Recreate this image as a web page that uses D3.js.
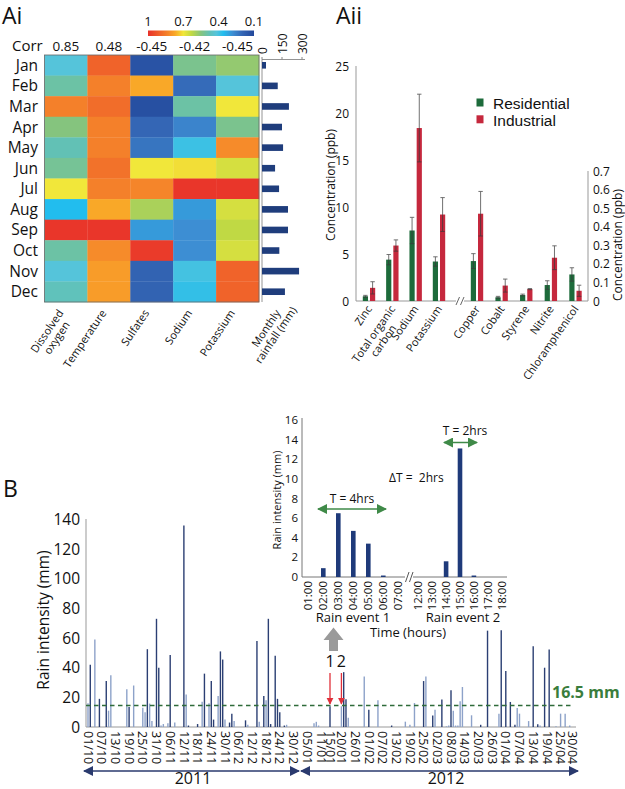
<!DOCTYPE html>
<html><head><meta charset="utf-8">
<script src="https://cdn.jsdelivr.net/npm/d3@7"></script>
<style>
body{margin:0;background:#fff}
svg{display:block}
text{font-family:"Open Sans",sans-serif;fill:#111}
</style>
</head><body>
<svg id="c" width="625" height="789"></svg>
<script>
// ================= DATA =================
// Panel Ai
const months = ["Jan","Feb","Mar","Apr","May","Jun","Jul","Aug","Sep","Oct","Nov","Dec"];
const variables = ["Dissolved oxygen","Temperature","Sulfates","Sodium","Potassium"];
const variableLabels = [["Dissolved","oxygen"],["Temperature"],["Sulfates"],["Sodium"],["Potassium"]];
const rainfallLabel = ["Monthly","rainfall (mm)"];
const corrLabels = ["0.85","0.48","-0.45","-0.42","-0.45"];
const heatValues = [
  [0.42,0.90,0.14,0.53,0.57],
  [0.50,0.84,0.77,0.21,0.42],
  [0.84,0.88,0.13,0.50,0.70],
  [0.55,0.84,0.20,0.26,0.53],
  [0.48,0.84,0.23,0.39,0.82],
  [0.52,0.87,0.70,0.71,0.66],
  [0.70,0.84,0.83,0.99,0.99],
  [0.36,0.77,0.60,0.30,0.66],
  [0.99,0.99,0.30,0.28,0.63],
  [0.50,0.82,0.98,0.28,0.66],
  [0.42,0.79,0.19,0.40,0.90],
  [0.47,0.79,0.19,0.38,0.90]
];
const monthlyRainfall = [30,118,202,150,158,98,128,195,195,130,278,172];
const rainfallTicks = [0,150,300];
const colorbarTicks = [1,0.7,0.4,0.1];

// Panel Aii
const leftCompounds = ["Zinc","Total organic carbon","Sodium","Potassium"];
const leftCompoundLabels = [["Zinc"],["Total organic","carbon"],["Sodium"],["Potassium"]];
const leftResidential = [0.5,4.4,7.5,4.2];
const leftResidentialErr = [0.1,0.55,1.4,0.5];
const leftIndustrial = [1.4,5.9,18.4,9.2];
const leftIndustrialErr = [0.65,0.6,3.6,1.8];
const rightCompounds = ["Copper","Cobalt","Styrene","Nitrite","Chloramphenicol"];
const rightResidential = [0.215,0.02,0.032,0.086,0.143];
const rightResidentialErr = [0.04,0.005,0.005,0.023,0.036];
const rightIndustrial = [0.47,0.083,0.064,0.233,0.055];
const rightIndustrialErr = [0.12,0.035,0.003,0.064,0.03];
const leftTicks = [0,5,10,15,20,25];
const rightTicks = [0,0.1,0.2,0.3,0.4,0.5,0.6,0.7];
const seriesNames = ["Residential","Industrial"];

// Panel B (daily rain intensity, mm); shade: d = dark, l = light
const rainDates = ["2011-10-01","2011-10-02","2011-10-04","2011-10-06","2011-10-09","2011-10-10","2011-10-11","2011-10-18","2011-10-19","2011-10-21",
"2011-10-25","2011-10-26","2011-10-27","2011-10-28","2011-10-29","2011-10-31","2011-11-01","2011-11-02","2011-11-03","2011-11-05",
"2011-11-06","2011-11-08","2011-11-12","2011-11-13","2011-11-14","2011-11-18","2011-11-20","2011-11-21","2011-11-23","2011-11-24",
"2011-11-25","2011-11-27","2011-11-28","2011-11-29","2011-11-30","2011-12-02","2011-12-03","2011-12-04","2011-12-09","2011-12-10",
"2011-12-14","2011-12-15","2011-12-17","2011-12-18","2011-12-19","2011-12-20","2011-12-22","2011-12-23","2011-12-24","2011-12-26",
"2011-12-27","2012-01-08","2012-01-09","2012-01-10","2012-01-15","2012-01-20","2012-01-21","2012-01-22","2012-01-23","2012-01-30",
"2012-02-01","2012-02-05","2012-02-11","2012-02-17","2012-02-19","2012-02-21","2012-02-25","2012-02-26","2012-02-29","2012-03-01",
"2012-03-04","2012-03-06","2012-03-07","2012-03-08","2012-03-09","2012-03-10","2012-03-11","2012-03-12","2012-03-13","2012-03-17",
"2012-03-21","2012-03-24","2012-03-29","2012-03-30","2012-04-01","2012-04-03","2012-04-05","2012-04-06","2012-04-07","2012-04-11",
"2012-04-13","2012-04-15","2012-04-16","2012-04-18","2012-04-20","2012-04-23","2012-04-25","2012-04-27","2012-04-29"];
const rainValues = [16,42,59,19,31,11,35,25.5,13.5,28,
13,10,52.5,15.8,4,73,40,1,2,2.5,
48.5,3,136,22,1,2,17,36,16,31,
5,21,51,45.5,5,3,9,4,4.5,1.5,
58,3.5,21,18,73,2,48,19,10,1,
1.5,2.5,3.5,1,14,14,37,18.7,6.3,34,
11.7,18,1,3.6,1.5,16.2,31,34,7.7,11.7,
18.5,0.5,1,24.8,11,1,1,17.4,27,7.9,
1.5,65,9,65.3,37.8,16.9,1.5,12.8,9,4,
54.5,1.8,1,40,52.3,0.5,9,9,1];
const rainShade = ["l","d","l","d","d","l","l","l","d","l",
"l","l","d","l","l","d","d","l","l","l",
"d","l","d","l","d","d","l","d","l","d",
"d","l","d","d","l","d","d","l","d","l",
"d","l","d","l","d","d","d","d","d","d",
"l","l","l","l","d","l","d","d","l","l",
"d","l","d","l","l","l","d","l","d","l",
"d","l","l","d","l","l","l","l","l","l",
"d","d","l","d","d","d","d","l","l","l",
"d","d","l","d","d","l","l","l","l"];
const dateTickLabels = ["01/10/2011","07/10/2011","13/10/2011","19/10/2011","25/10/2011","31/10/2011","06/11/2011","12/11/2011","18/11/2011","24/11/2011",
"30/11/2011","06/12/2011","12/12/2011","18/12/2011","24/12/2011","30/12/2011","05/01/2012","11/01/2012","15/01/2012","20/01/2012",
"26/01/2012","01/02/2012","07/02/2012","13/02/2012","19/02/2012","25/02/2012","02/03/2012","08/03/2012","14/03/2012","20/03/2012",
"26/03/2012","01/04/2012","07/04/2012","13/04/2012","19/04/2012","25/04/2012","30/04/2012"];
const mainTicks = [0,20,40,60,80,100,120,140];
const thresholdLine = 14.5;
const thresholdLabel = "16.5 mm";
const eventDates = ["2012-01-15","2012-01-20"];
const eventNames = ["1","2"];
const years = ["2011","2012"];

// Inset
const hoursEvent1 = ["01:00","02:00","03:00","04:00","05:00","06:00","07:00"];
const rainEvent1 = [0,0.9,6.5,4.7,3.4,0.15,0];
const hoursEvent2 = ["12:00","13:00","14:00","15:00","16:00","17:00","18:00"];
const rainEvent2 = [0,0,1.6,13.1,0.15,0,0];
const insetTicks = [0,2,4,6,8,10,12,14,16];

// ================= DRAW =================
const svg = d3.select("#c");
svg.append("rect").attr("width",625).attr("height",789).attr("fill","#fff");

const defs = svg.append("defs");
function marker(id,color,w,h){
  defs.append("marker").attr("id",id).attr("viewBox","0 0 10 10").attr("refX",9).attr("refY",5)
   .attr("markerWidth",w).attr("markerHeight",h).attr("orient","auto-start-reverse").attr("markerUnits","userSpaceOnUse")
   .append("path").attr("d","M0,0 L10,5 L0,10 z").attr("fill",color);
}
marker("mNavy","#2a3a6e",11,10);
marker("mGreen","#3f8a48",10,10);
marker("mRed","#e0303a",7,9);

// ---------- Panel labels ----------
svg.append("text").attr("x",2).attr("y",24).attr("font-size",23).text("Ai");
svg.append("text").attr("x",336).attr("y",24).attr("font-size",23).text("Aii");
svg.append("text").attr("x",3).attr("y",497).attr("font-size",23).text("B");

// ---------- Ai ----------
const heatColor = d3.scaleLinear()
  .domain([1,0.9,0.83,0.77,0.7,0.63,0.55,0.48,0.42,0.36,0.28,0.2,0.1])
  .range(["#e8312a","#f0632a","#f5852a","#f9a828","#f1e73a","#c0d944","#85c47e","#62c1b5","#55c4da","#22bdee","#3d8ed3","#3466b5","#22479a"])
  .clamp(true);

const hx = d3.scaleBand().domain(variables).range([44.5,259]);
const hy = d3.scaleBand().domain(months).range([55,302]);

// colorbar
const cbx = d3.scaleLinear().domain([1,0.1]).range([148,254]);
const grad = defs.append("linearGradient").attr("id","cbg").attr("x1","0%").attr("x2","100%");
heatColor.domain().forEach((v,i)=>{
  grad.append("stop").attr("offset",((1-v)/0.9*100)+"%").attr("stop-color",heatColor.range()[i]);
});
svg.append("rect").attr("x",cbx(1)).attr("y",30.5).attr("width",cbx(0.1)-cbx(1)).attr("height",5.5).attr("fill","url(#cbg)");
svg.selectAll(".cbt").data(colorbarTicks).join("text")
  .attr("x",d=>cbx(d)).attr("y",26).attr("text-anchor","middle").attr("font-size",13)
  .text(d=>d===1?"1":d3.format(".1f")(d));

// corr row
svg.append("text").attr("x",12).attr("y",51).attr("font-size",15).text("Corr");
svg.selectAll(".corr").data(corrLabels).join("text")
  .attr("x",(d,i)=>hx(variables[i])+hx.bandwidth()/2).attr("y",51).attr("text-anchor","middle").attr("font-size",13.5)
  .text(d=>d);

// cells
months.forEach((m,r)=>{
  variables.forEach((v,c)=>{
    svg.append("rect").attr("x",hx(v)).attr("y",hy(m)).attr("width",hx.bandwidth()+0.3).attr("height",hy.bandwidth()+0.3)
      .attr("fill",heatColor(heatValues[r][c]));
  });
});
svg.append("rect").attr("x",44.5).attr("y",55).attr("width",259-44.5).attr("height",302-55)
  .attr("fill","none").attr("stroke","#666").attr("stroke-width",0.8);

svg.selectAll(".mon").data(months).join("text")
  .attr("x",38).attr("y",d=>hy(d)+hy.bandwidth()/2+5.5).attr("text-anchor","end").attr("font-size",15.5).text(d=>d);

// rotated multi-line labels, lines centred on each other, block anchored at the end of the first line
function rotLabel(lines,x,y,angle,fs){
  const g = svg.append("g").attr("transform",`translate(${x},${y}) rotate(${angle})`).attr("font-size",fs);
  const ts = lines.map((l,i)=>g.append("text").attr("x",0).attr("y",i*fs*1.08).attr("text-anchor","end").text(l));
  const w0 = ts[0].node().getComputedTextLength();
  ts.forEach((t,i)=>{ if(i>0){ const w = t.node().getComputedTextLength(); t.attr("x",-(w0-w)/2); }});
}
variableLabels.forEach((lines,i)=>rotLabel(lines,hx(variables[i])+hx.bandwidth()/2-2,313,-56,11));
rotLabel(rainfallLabel,281,313,-56,11);

// monthly rainfall bars
const rx = d3.scaleLinear().domain([0,300]).range([262,302]);
svg.append("line").attr("x1",262).attr("x2",262).attr("y1",59.5).attr("y2",302).attr("stroke","#888").attr("stroke-width",0.9);
svg.append("line").attr("x1",262).attr("x2",305).attr("y1",59.5).attr("y2",59.5).attr("stroke","#888").attr("stroke-width",0.9);
svg.selectAll(".rtk").data(rainfallTicks).join("line")
  .attr("x1",d=>rx(d)).attr("x2",d=>rx(d)).attr("y1",57).attr("y2",59.5).attr("stroke","#888");
svg.selectAll(".rtl").data(rainfallTicks).join("text")
  .attr("transform",d=>`translate(${rx(d)+4.5},54) rotate(-90)`).attr("font-size",12).text(d=>d);
svg.selectAll(".rb").data(monthlyRainfall).join("rect")
  .attr("x",rx(0)).attr("y",(d,i)=>hy(months[i])+hy.bandwidth()/2-3.3)
  .attr("width",d=>rx(d)-rx(0)).attr("height",6.6).attr("fill","#1f3d7c");

// ---------- Aii ----------
const yL = d3.scaleLinear().domain([0,25]).range([301,66]);
const yR = d3.scaleLinear().domain([0,0.7]).range([301,171]);
const xL = d3.scalePoint().domain(leftCompounds).range([369,439]);
const xR = d3.scalePoint().domain(rightCompounds).range([477,575.5]);
const green = "#1d6b3b", red = "#c5283d";

svg.append("line").attr("x1",356).attr("x2",356).attr("y1",66).attr("y2",301).attr("stroke","#999");
svg.append("line").attr("x1",588).attr("x2",588).attr("y1",171).attr("y2",301).attr("stroke","#999");
svg.append("line").attr("x1",356).attr("x2",456).attr("y1",301).attr("y2",301).attr("stroke","#999");
svg.append("line").attr("x1",464).attr("x2",588).attr("y1",301).attr("y2",301).attr("stroke","#999");
svg.append("line").attr("x1",456).attr("x2",459.5).attr("y1",305).attr("y2",297).attr("stroke","#666");
svg.append("line").attr("x1",460.5).attr("x2",464).attr("y1",305).attr("y2",297).attr("stroke","#666");

svg.selectAll(".ylt").data(leftTicks).join("text")
  .attr("x",349).attr("y",d=>yL(d)+4.5).attr("text-anchor","end").attr("font-size",12).text(d=>d);
svg.selectAll(".yrt").data(rightTicks).join("text")
  .attr("x",593).attr("y",d=>yR(d)+4.5).attr("font-size",12).text(d=>d===0?"0":d3.format(".1f")(d));
svg.append("text").attr("transform","translate(335,185) rotate(-90)").attr("text-anchor","middle").attr("font-size",12).text("Concentration (ppb)");
svg.append("text").attr("transform","translate(622,245) rotate(-90)").attr("text-anchor","middle").attr("font-size",12).text("Concentration (ppb)");

function groupBars(cats,xs,ys,res,resE,ind,indE){
  const bw = 5.2, off = 3.6;
  cats.forEach((c,i)=>{
    [[res[i],resE[i],green,-off],[ind[i],indE[i],red,off]].forEach(([v,e,col,o])=>{
      const cx = xs(c)+o;
      svg.append("rect").attr("x",cx-bw/2).attr("y",ys(v)).attr("width",bw).attr("height",ys(0)-ys(v)).attr("fill",col);
      const g = svg.append("g").attr("stroke","#3a3a3a").attr("stroke-width",0.9).attr("opacity",0.8);
      g.append("line").attr("x1",cx).attr("x2",cx).attr("y1",ys(v-e)).attr("y2",ys(v+e));
      g.append("line").attr("x1",cx-2.2).attr("x2",cx+2.2).attr("y1",ys(v+e)).attr("y2",ys(v+e));
      g.append("line").attr("x1",cx-2.2).attr("x2",cx+2.2).attr("y1",ys(v-e)).attr("y2",ys(v-e));
    });
  });
}
groupBars(leftCompounds,xL,yL,leftResidential,leftResidentialErr,leftIndustrial,leftIndustrialErr);
groupBars(rightCompounds,xR,yR,rightResidential,rightResidentialErr,rightIndustrial,rightIndustrialErr);

leftCompoundLabels.forEach((lines,i)=>rotLabel(lines,xL(leftCompounds[i])+3.5,309,-55,11));
rightCompounds.forEach((c)=>rotLabel([c],xR(c)+3.5,309,-55,11));

// legend
[green,red].forEach((col,i)=>{
  svg.append("rect").attr("x",476.5).attr("y",98.5+i*16.8).attr("width",7).attr("height",8).attr("fill",col);
  svg.append("text").attr("x",493).attr("y",109+i*16.8).attr("font-size",15.5)
    .style("font-family","'Liberation Sans', Arial, sans-serif").text(seriesNames[i]);
});

// ---------- B main ----------
const parse = d3.timeParse("%Y-%m-%d");
const parseTick = d3.timeParse("%d/%m/%Y");
const fmtTick = d3.timeFormat("%d/%m");
const xT = d3.scaleTime().domain([parse("2011-10-01"),parse("2012-04-30")]).range([88,572]);
const yM = d3.scaleLinear().domain([0,140]).range([727,519.5]);

svg.append("line").attr("x1",86).attr("x2",86).attr("y1",519).attr("y2",727).attr("stroke","#aaa").attr("stroke-width",1.2);
svg.append("line").attr("x1",86).attr("x2",576).attr("y1",727).attr("y2",727).attr("stroke","#999").attr("stroke-width",1);
svg.selectAll(".myt").data(mainTicks).join("text")
  .attr("x",80).attr("y",d=>yM(d)+5.5).attr("text-anchor","end").attr("font-size",15.5).text(d=>d);
svg.append("text").attr("transform","translate(49,620) rotate(-90)").attr("text-anchor","middle").attr("font-size",15.5).text("Rain intensity (mm)");

svg.selectAll(".mb").data(rainValues).join("line")
  .attr("x1",(d,i)=>xT(parse(rainDates[i]))).attr("x2",(d,i)=>xT(parse(rainDates[i])))
  .attr("y1",yM(0)).attr("y2",d=>yM(d))
  .attr("stroke",(d,i)=>rainShade[i]==="d"?"#2b3f73":"#8da2c9").attr("stroke-width",1.4);

svg.append("line").attr("x1",86).attr("x2",571).attr("y1",yM(thresholdLine)).attr("y2",yM(thresholdLine))
  .attr("stroke","#2f6b3a").attr("stroke-width",1.3).attr("stroke-dasharray","4.5,3.5");
svg.append("text").attr("x",552).attr("y",698).attr("font-size",16).attr("font-weight","bold").style("fill","#3a7d3c").text(thresholdLabel);

svg.selectAll(".dtl").data(dateTickLabels).join("text")
  .attr("transform",d=>`translate(${xT(parseTick(d))-4.3},731) rotate(90)`).attr("font-size",12.5)
  .text(d=>fmtTick(parseTick(d)));

years.forEach((yr,i)=>{
  const x1 = i===0 ? 84 : 301, x2 = i===0 ? 299 : 578;
  svg.append("line").attr("x1",x1).attr("x2",x2).attr("y1",771).attr("y2",771).attr("stroke","#2a3a6e").attr("stroke-width",1.3)
    .attr("marker-start","url(#mNavy)").attr("marker-end","url(#mNavy)");
  svg.append("text").attr("x",i===0?193:446).attr("y",784).attr("text-anchor","middle").attr("font-size",16).text(yr);
});

// event markers
eventDates.forEach((d,i)=>{
  const x = xT(parse(d));
  svg.append("line").attr("x1",x).attr("x2",x).attr("y1",673).attr("y2",704).attr("stroke","#e0303a").attr("stroke-width",1.3).attr("marker-end","url(#mRed)");
  svg.append("text").attr("x",x).attr("y",667).attr("text-anchor","middle").attr("font-size",16).text(eventNames[i]);
});
// grey up arrow
svg.append("path").attr("d","M323.5,640 L333.5,627.5 L343.5,640 L338,640 L338,651 L329,651 L329,640 Z").attr("fill","#9a9a9a");

// ---------- Inset ----------
const yI = d3.scaleLinear().domain([0,16]).range([577,420]);
const x1 = d3.scalePoint().domain(hoursEvent1).range([308.3,398.3]);
const x2 = d3.scalePoint().domain(hoursEvent2).range([418.3,501.7]);

svg.append("line").attr("x1",302).attr("x2",302).attr("y1",418).attr("y2",577).attr("stroke","#777");
svg.append("line").attr("x1",302).attr("x2",405).attr("y1",577).attr("y2",577).attr("stroke","#777");
svg.append("line").attr("x1",413).attr("x2",507).attr("y1",577).attr("y2",577).attr("stroke","#777");
svg.append("line").attr("x1",405.5).attr("x2",409).attr("y1",582).attr("y2",572).attr("stroke","#555");
svg.append("line").attr("x1",409.5).attr("x2",413).attr("y1",582).attr("y2",572).attr("stroke","#555");

svg.selectAll(".iyt").data(insetTicks).join("text")
  .attr("x",298).attr("y",d=>yI(d)+4).attr("text-anchor","end").attr("font-size",11.5).text(d=>d);
svg.append("text").attr("transform","translate(281,500) rotate(-90)").attr("text-anchor","middle").attr("font-size",11).text("Rain intensity (mm)");

[[hoursEvent1,rainEvent1,x1],[hoursEvent2,rainEvent2,x2]].forEach(([hrs,vals,xs])=>{
  svg.selectAll(null).data(vals).join("rect")
    .attr("x",(d,i)=>xs(hrs[i])-2.3).attr("y",d=>yI(d)).attr("width",4.6).attr("height",d=>yI(0)-yI(d)).attr("fill","#1f3a7a");
  svg.selectAll(null).data(hrs).join("text")
    .attr("transform",d=>`translate(${xs(d)+4},581) rotate(-90)`).attr("text-anchor","end").attr("font-size",11.5).text(d=>d);
});
svg.append("text").attr("x",353).attr("y",622).attr("text-anchor","middle").attr("font-size",13).text("Rain event 1");
svg.append("text").attr("x",463).attr("y",622).attr("text-anchor","middle").attr("font-size",13).text("Rain event 2");
svg.append("text").attr("x",408).attr("y",637).attr("text-anchor","middle").attr("font-size",13).text("Time (hours)");

// annotations
svg.append("text").attr("x",352).attr("y",503).attr("text-anchor","middle").attr("font-size",12).text("T = 4hrs");
svg.append("line").attr("x1",318).attr("x2",386).attr("y1",509).attr("y2",509).attr("stroke","#3f8a48").attr("stroke-width",1.4)
  .attr("marker-start","url(#mGreen)").attr("marker-end","url(#mGreen)");
svg.append("text").attr("x",465).attr("y",435).attr("text-anchor","middle").attr("font-size",12).text("T = 2hrs");
svg.append("line").attr("x1",444).attr("x2",477).attr("y1",442.5).attr("y2",442.5).attr("stroke","#3f8a48").attr("stroke-width",1.4)
  .attr("marker-start","url(#mGreen)").attr("marker-end","url(#mGreen)");
svg.append("text").attr("x",389).attr("y",482).attr("font-size",12).attr("xml:space","preserve").text("\u0394T =  2hrs");
</script>
</body></html>
